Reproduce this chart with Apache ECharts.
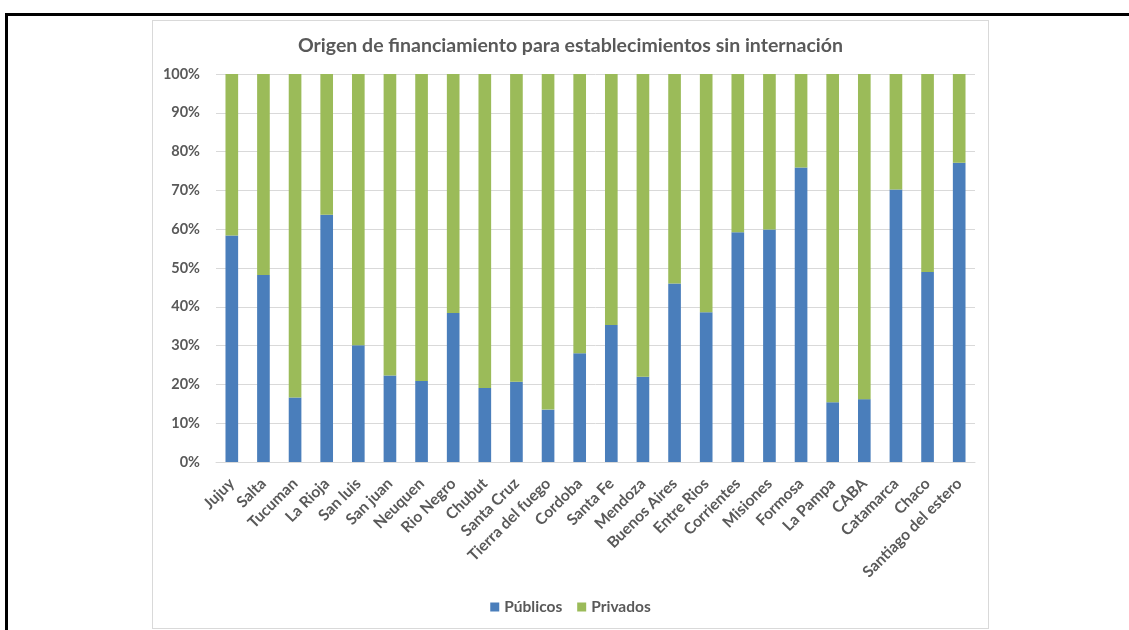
<!DOCTYPE html>
<html>
<head>
<meta charset="utf-8">
<script src="https://cdn.jsdelivr.net/npm/echarts@6/dist/echarts.min.js"></script>
<style>
  html, body { margin: 0; padding: 0; background: #fff; width: 1129px; height: 630px; overflow: hidden; }
  #frame { position: absolute; left: 5px; top: 13px; width: 1300px; height: 800px; border: 3px solid #000; }
  #chart { position: absolute; left: 152px; top: 20px; width: 837px; height: 609px; border: 1px solid #d9d9d9; box-sizing: border-box; background: #fff; }
</style>
</head>
<body>
<div id="frame"></div>
<div id="chart"></div>
<script>
// provincias
var categories = ['Jujuy', 'Salta', 'Tucuman', 'La Rioja', 'San luis', 'San juan', 'Neuquen', 'Rio Negro',
  'Chubut', 'Santa Cruz', 'Tierra del fuego', 'Cordoba', 'Santa Fe', 'Mendoza', 'Buenos Aires', 'Entre Rios',
  'Corrientes', 'Misiones', 'Formosa', 'La Pampa', 'CABA', 'Catamarca', 'Chaco', 'Santiago del estero'];
// porcentaje publicos
var publicos = [58.4, 48.2, 16.6, 63.7, 30.1, 22.3, 20.9, 38.4, 19.1, 20.7, 13.5, 28.0,
  35.3, 22.0, 46.0, 38.6, 59.2, 59.9, 75.9, 15.4, 16.2, 70.2, 49.0, 77.1];
// porcentaje privados
var privados = [41.6, 51.8, 83.4, 36.3, 69.9, 77.7, 79.1, 61.6, 80.9, 79.3, 86.5, 72.0,
  64.7, 78.0, 54.0, 61.4, 40.8, 40.1, 24.1, 84.6, 83.8, 29.8, 51.0, 22.9];
var seriesNames = ['Públicos', 'Privados'];
var yTicks = [0, 10, 20, 30, 40, 50, 60, 70, 80, 90, 100];

var font = 'Lato, "Open Sans", sans-serif';
var txt = '#595959';

var chart = echarts.init(document.getElementById('chart'), null, { renderer: 'canvas' });
var option = {
  animation: false,
  title: {
    text: 'Origen de financiamiento para establecimientos sin internación',
    left: 'center',
    top: 10,
    textStyle: { fontFamily: font, fontSize: 19.5, fontWeight: 'bold', color: txt }
  },
  legend: {
    data: seriesNames,
    bottom: 8,
    left: 'center',
    icon: 'rect',
    itemWidth: 9,
    itemHeight: 9,
    itemGap: 15,
    textStyle: { fontFamily: font, fontSize: 15.5, fontWeight: 'bold', color: txt }
  },
  grid: { left: 63, right: 13, top: 53, bottom: 166, containLabel: false },
  xAxis: {
    type: 'category',
    data: categories,
    axisLine: { lineStyle: { color: '#d9d9d9' } },
    axisTick: { show: false },
    axisLabel: {
      interval: 0,
      rotate: 45,
      margin: 19,
      fontFamily: font,
      fontSize: 15.6,
      fontWeight: 'bold',
      color: txt
    }
  },
  yAxis: {
    type: 'value',
    min: yTicks[0],
    max: yTicks[yTicks.length - 1],
    interval: 10,
    axisLine: { show: false },
    axisTick: { show: false },
    splitLine: { lineStyle: { color: '#d9d9d9', width: 1 } },
    axisLabel: {
      margin: 16,
      formatter: '{value}%',
      fontFamily: font,
      fontSize: 14.5,
      fontWeight: 'bold',
      color: txt
    }
  },
  series: [{
    name: seriesNames[0],
    type: 'bar',
    stack: 'total',
    barWidth: '40%',
    data: publicos,
    itemStyle: { color: '#4a7ebb' }
  }, {
    name: seriesNames[1],
    type: 'bar',
    stack: 'total',
    barWidth: '40%',
    data: privados,
    itemStyle: { color: '#9bbb59' }
  }]
};
chart.setOption(option);
</script>
</body>
</html>
